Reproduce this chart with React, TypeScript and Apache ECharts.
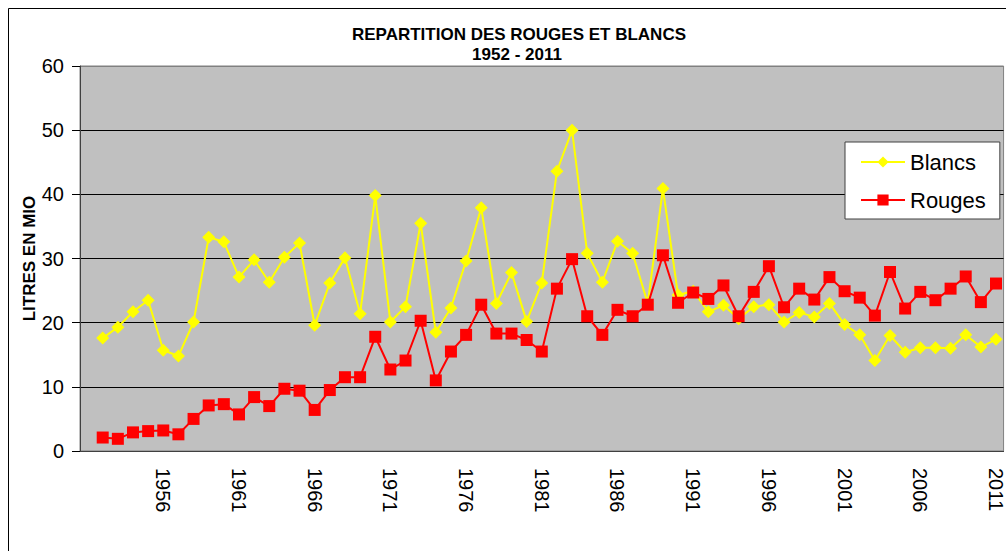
import React, { useEffect, useRef } from "react";
import * as echarts from "echarts";

const years: string[] = [
  "", "1952", "1953", "1954", "1955", "1956", "1957", "1958", "1959", "1960",
  "1961", "1962", "1963", "1964", "1965", "1966", "1967", "1968", "1969", "1970",
  "1971", "1972", "1973", "1974", "1975", "1976", "1977", "1978", "1979", "1980",
  "1981", "1982", "1983", "1984", "1985", "1986", "1987", "1988", "1989", "1990",
  "1991", "1992", "1993", "1994", "1995", "1996", "1997", "1998", "1999", "2000",
  "2001", "2002", "2003", "2004", "2005", "2006", "2007", "2008", "2009", "2010",
  "2011",
];

const blancs: (number | null)[] = [
  null,
  17.6, 19.3, 21.7, 23.5, 15.7, 14.8, 20.1, 33.3, 32.6, 27.1,
  29.8, 26.3, 30.2, 32.4, 19.6, 26.2, 30.1, 21.4, 39.8, 20.1,
  22.5, 35.5, 18.5, 22.3, 29.6, 37.9, 23.0, 27.8, 20.2, 26.2,
  43.6, 50.0, 30.8, 26.3, 32.7, 30.8, 23.0, 40.9, 24.3, 24.9,
  21.7, 22.7, 20.6, 22.5, 22.8, 20.1, 21.6, 20.9, 23.0, 19.7,
  18.1, 14.1, 18.0, 15.4, 16.1, 16.1, 16.0, 18.1, 16.2, 17.4,
];

const rouges: (number | null)[] = [
  null,
  2.1, 1.9, 2.9, 3.1, 3.2, 2.6, 5.0, 7.1, 7.3, 5.7,
  8.4, 7.0, 9.7, 9.4, 6.4, 9.5, 11.5, 11.5, 17.8, 12.7,
  14.1, 20.3, 11.0, 15.5, 18.1, 22.8, 18.3, 18.3, 17.3, 15.5,
  25.3, 29.9, 21.0, 18.1, 22.0, 21.0, 22.8, 30.5, 23.1, 24.7,
  23.7, 25.8, 21.0, 24.8, 28.8, 22.4, 25.3, 23.6, 27.1, 24.9,
  23.9, 21.1, 27.9, 22.2, 24.8, 23.5, 25.3, 27.2, 23.2, 26.1,
];

const titleLine1 = "REPARTITION DES ROUGES ET BLANCS";
const titleLine2 = "1952 - 2011";
const yName = "LITRES EN MIO";

const FONT = "'Liberation Sans', Arial, sans-serif";

export default function App() {
  const ref = useRef<HTMLDivElement>(null);
  useEffect(() => {
    if (!ref.current) return;
    const chart = echarts.init(ref.current, null, { renderer: "svg" });
    chart.setOption({
      animation: false,
      backgroundColor: "#ffffff",
      textStyle: { fontFamily: FONT },
      graphic: [
        {
          type: "rect",
          shape: { x: 8.5, y: 8.5, width: 1100, height: 600 },
          style: { fill: "none", stroke: "#000", lineWidth: 1 },
          silent: true,
          z: -10,
        },
        {
          type: "text",
          style: {
            x: 519, y: 34, text: titleLine1, align: "center", verticalAlign: "middle",
            font: `bold 17px ${FONT}`, fill: "#000",
          },
        },
        {
          type: "text",
          style: {
            x: 517, y: 54, text: titleLine2, align: "center", verticalAlign: "middle",
            font: `bold 17px ${FONT}`, fill: "#000",
          },
        },
      ],
      grid: {
        left: 80, right: 2, top: 66, bottom: 100,
        show: true, backgroundColor: "#C0C0C0", borderColor: "#808080", borderWidth: 1,
      },
      legend: {
        left: 845, top: 142, orient: "vertical",
        padding: [8, 14, 7, 15], itemGap: 14,
        backgroundColor: "#ffffff", borderColor: "#404040", borderWidth: 1,
        itemWidth: 44, itemHeight: 14,
        textStyle: { fontSize: 22, lineHeight: 24, color: "#000", fontFamily: FONT },
        data: ["Blancs", "Rouges"],
      },
      xAxis: {
        type: "category",
        data: years,
        boundaryGap: true,
        axisLine: { lineStyle: { color: "#404040", width: 1 } },
        axisTick: { interval: 0, length: 6, lineStyle: { color: "#000" } },
        axisLabel: {
          interval: 4, rotate: -90, margin: 17, fontSize: 20, color: "#000", fontFamily: FONT,
        },
        splitLine: { show: false },
      },
      yAxis: {
        type: "value",
        min: 0, max: 60, interval: 10,
        name: yName,
        nameLocation: "middle",
        nameGap: 42,
        nameMoveOverlap: false,
        nameTextStyle: { fontSize: 17, fontWeight: "bold", color: "#000", fontFamily: FONT },
        axisLine: { show: true, lineStyle: { color: "#404040", width: 1 } },
        axisTick: { show: true, length: 8, lineStyle: { color: "#000" } },
        axisLabel: { margin: 16, fontSize: 20, color: "#000", fontFamily: FONT },
        splitLine: {
          show: true,
          lineStyle: {
            color: ["#000", "#000", "#000", "#000", "#000", "#000", "#808080"],
            width: 1,
          },
        },
      },
      series: [
        {
          name: "Blancs",
          type: "line",
          data: blancs,
          symbol: "diamond",
          symbolSize: 13,
          showAllSymbol: true,
          lineStyle: { color: "#FFFF00", width: 2 },
          itemStyle: { color: "#FFFF00" },
          z: 3,
        },
        {
          name: "Rouges",
          type: "line",
          data: rouges,
          symbol: "rect",
          symbolSize: 12,
          showAllSymbol: true,
          lineStyle: { color: "#FF0000", width: 2 },
          itemStyle: { color: "#FF0000" },
          z: 4,
        },
      ],
    });
    return () => chart.dispose();
  }, []);
  return (
    <div
      ref={ref}
      style={{ position: "absolute", left: 0, top: 0, width: 1006, height: 551 }}
    />
  );
}
